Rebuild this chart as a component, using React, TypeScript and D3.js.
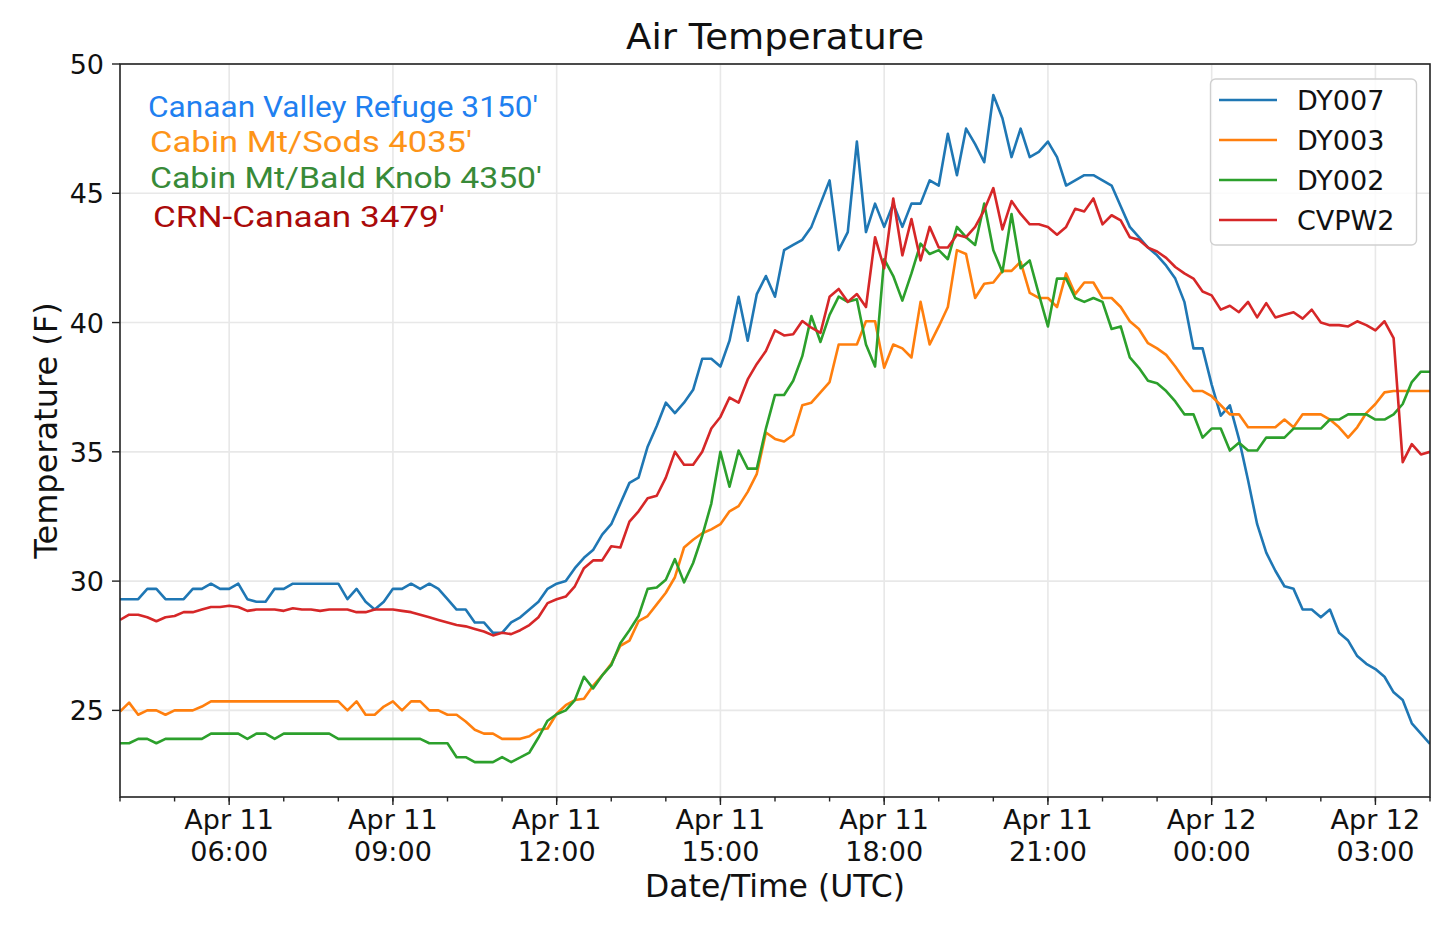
import * as d3 from "d3";

// 10-minute readings, Apr 11 04:00 UTC to Apr 12 04:00 UTC
const dy007 = [
  29.3, 29.3, 29.3, 29.7, 29.7, 29.3, 29.3, 29.3, 29.7, 29.7, 29.9, 29.7, 29.7, 29.9, 29.3, 29.2, 29.2, 29.7, 29.7, 29.9,
  29.9, 29.9, 29.9, 29.9, 29.9, 29.3, 29.7, 29.2, 28.9, 29.2, 29.7, 29.7, 29.9, 29.7, 29.9, 29.7, 29.3, 28.9, 28.9, 28.4,
  28.4, 28.0, 28.0, 28.4, 28.6, 28.9, 29.2, 29.7, 29.9, 30.0, 30.5, 30.9, 31.2, 31.8, 32.2, 33.0, 33.8, 34.0, 35.2, 36.0,
  36.9, 36.5, 36.9, 37.4, 38.6, 38.6, 38.3, 39.3, 41.0, 39.3, 41.1, 41.8, 41.0, 42.8, 43.0, 43.2, 43.7, 44.6, 45.5, 42.8,
  43.5, 47.0, 43.5, 44.6, 43.7, 44.6, 43.7, 44.6, 44.6, 45.5, 45.3, 47.3, 45.7, 47.5, 46.9, 46.2, 48.8, 47.9, 46.4, 47.5,
  46.4, 46.6, 47.0, 46.4, 45.3, 45.5, 45.7, 45.7, 45.5, 45.3, 44.5, 43.7, 43.3, 42.9, 42.6, 42.2, 41.7, 40.8, 39.0, 39.0,
  37.6, 36.4, 36.8, 35.5, 33.9, 32.2, 31.1, 30.4, 29.8, 29.7, 28.9, 28.9, 28.6, 28.9, 28.0, 27.7, 27.1, 26.8, 26.6, 26.3,
  25.7, 25.4, 24.5, 24.1, 23.7,
];

const dy003 = [
  24.95, 25.3, 24.83, 25.0, 25.0, 24.83, 25.0, 25.0, 25.0, 25.15, 25.35, 25.35, 25.35, 25.35, 25.35, 25.35, 25.35, 25.35, 25.35, 25.35,
  25.35, 25.35, 25.35, 25.35, 25.35, 25.0, 25.35, 24.83, 24.83, 25.15, 25.35, 25.0, 25.35, 25.35, 25.0, 25.0, 24.83, 24.83, 24.57, 24.25,
  24.1, 24.1, 23.9, 23.9, 23.9, 24.0, 24.25, 24.3, 24.87, 25.2, 25.4, 25.45, 25.95, 26.35, 26.8, 27.5, 27.7, 28.45, 28.65, 29.1,
  29.55, 30.15, 31.3, 31.6, 31.85, 32.0, 32.2, 32.7, 32.9, 33.45, 34.15, 35.75, 35.5, 35.4, 35.65, 36.8, 36.9, 37.3, 37.7, 39.15,
  39.15, 39.15, 40.05, 40.05, 38.25, 39.15, 39.0, 38.65, 40.8, 39.15, 39.85, 40.6, 42.8, 42.65, 40.95, 41.5, 41.55, 42.0, 42.0, 42.35,
  41.15, 40.95, 40.95, 40.6, 41.9, 41.1, 41.55, 41.55, 40.95, 40.95, 40.6, 40.05, 39.75, 39.2, 39.0, 38.75, 38.3, 37.8, 37.35, 37.35,
  37.15, 36.8, 36.45, 36.45, 35.95, 35.95, 35.95, 35.95, 36.25, 35.95, 36.45, 36.45, 36.45, 36.25, 35.95, 35.55, 35.95, 36.5, 36.85, 37.3,
  37.35, 37.35, 37.35, 37.35, 37.35,
];

const dy002 = [
  23.73, 23.73, 23.9, 23.9, 23.73, 23.9, 23.9, 23.9, 23.9, 23.9, 24.1, 24.1, 24.1, 24.1, 23.9, 24.1, 24.1, 23.9, 24.1, 24.1,
  24.1, 24.1, 24.1, 24.1, 23.9, 23.9, 23.9, 23.9, 23.9, 23.9, 23.9, 23.9, 23.9, 23.9, 23.73, 23.73, 23.73, 23.19, 23.19, 23.0,
  23.0, 23.0, 23.19, 23.0, 23.18, 23.37, 23.95, 24.6, 24.85, 25.0, 25.4, 26.3, 25.85, 26.35, 26.75, 27.6, 28.1, 28.65, 29.7, 29.75,
  30.05, 30.85, 29.95, 30.7, 31.75, 33.0, 35.0, 33.65, 35.05, 34.35, 34.35, 35.9, 37.2, 37.2, 37.75, 38.7, 40.25, 39.25, 40.3, 41.0,
  40.8, 40.9, 39.15, 38.3, 42.45, 41.8, 40.85, 41.9, 43.05, 42.65, 42.8, 42.45, 43.7, 43.3, 43.0, 44.6, 42.8, 41.95, 44.2, 42.1,
  42.4, 41.1, 39.85, 41.7, 41.7, 40.95, 40.8, 40.95, 40.8, 39.75, 39.85, 38.65, 38.25, 37.75, 37.65, 37.35, 36.95, 36.45, 36.45, 35.55,
  35.9, 35.9, 35.05, 35.35, 35.05, 35.05, 35.55, 35.55, 35.55, 35.9, 35.9, 35.9, 35.9, 36.25, 36.25, 36.45, 36.45, 36.45, 36.25, 36.25,
  36.45, 36.85, 37.7, 38.1, 38.1,
];

const cvpw2 = [
  28.5, 28.7, 28.7, 28.6, 28.45, 28.6, 28.65, 28.8, 28.8, 28.9, 29.0, 29.0, 29.05, 29.0, 28.85, 28.9, 28.9, 28.9, 28.85, 28.95,
  28.9, 28.9, 28.85, 28.9, 28.9, 28.9, 28.8, 28.8, 28.9, 28.9, 28.9, 28.85, 28.8, 28.7, 28.6, 28.5, 28.4, 28.3, 28.25, 28.15,
  28.05, 27.9, 28.0, 27.95, 28.1, 28.3, 28.6, 29.15, 29.3, 29.4, 29.8, 30.5, 30.8, 30.8, 31.35, 31.3, 32.3, 32.7, 33.2, 33.3,
  34.0, 35.0, 34.5, 34.5, 35.0, 35.9, 36.35, 37.1, 36.9, 37.8, 38.4, 38.9, 39.7, 39.5, 39.55, 40.06, 39.8, 39.6, 41.0, 41.3,
  40.8, 41.1, 40.6, 43.3, 42.1, 44.8, 42.6, 44.0, 42.4, 43.7, 42.9, 42.9, 43.4, 43.3, 43.7, 44.35, 45.2, 43.6, 44.7, 44.2,
  43.8, 43.8, 43.7, 43.4, 43.7, 44.4, 44.3, 44.8, 43.8, 44.15, 43.95, 43.3, 43.2, 42.9, 42.75, 42.5, 42.15, 41.9, 41.7, 41.2,
  41.05, 40.5, 40.65, 40.4, 40.8, 40.2, 40.75, 40.2, 40.3, 40.4, 40.15, 40.5, 40.0, 39.9, 39.9, 39.85, 40.05, 39.9, 39.7, 40.05,
  39.4, 34.6, 35.3, 34.9, 35.0,
];

const seriesNames = ["DY007", "DY003", "DY002", "CVPW2"];
const seriesColors = ["#1f77b4", "#ff7f0e", "#2ca02c", "#d62728"];

const stationLabels = [
  "Canaan Valley Refuge 3150'",
  "Cabin Mt/Sods 4035'",
  "Cabin Mt/Bald Knob 4350'",
  "CRN-Canaan 3479'",
];
const stationColors = ["#1f80f0", "#fd9418", "#388a38", "#aa0a0a"];

const startTime = new Date(Date.UTC(2019, 3, 11, 4, 0));
const endTime = new Date(Date.UTC(2019, 3, 12, 4, 0));
const times = d3.utcMinute.every(10)!.range(startTime, new Date(+endTime + 1));

const W = 1440;
const H = 929;
const margin = { top: 64, right: 10, bottom: 132, left: 120 };
const tickFont = "DejaVu Sans, Verdana, sans-serif";

// annotation placement (left x, baseline y, drawn width)
const labelX = [148, 150, 150, 153];
const labelY = [117, 152, 188, 227];
const labelW = [390, 322, 392, 292];

export default function App() {
  const x = d3
    .scaleUtc()
    .domain([startTime, endTime])
    .range([margin.left, W - margin.right]);
  const y = d3
    .scaleLinear()
    .domain([21.65, 50])
    .range([H - margin.bottom, margin.top]);

  const [x0, x1] = x.range();
  const [yb, yt] = y.range();

  const majorTicks = x.ticks(d3.utcHour.every(3)!);
  const minorTicks = x.ticks(d3.utcHour.every(1)!);
  const yTicks = y.ticks(6);
  const fmtDay = d3.utcFormat("%b %d");
  const fmtTime = d3.utcFormat("%H:%M");

  const line = d3
    .line<number>()
    .x((_, i) => x(times[i]))
    .y((d) => y(d));

  const allSeries = [dy007, dy003, dy002, cvpw2];

  return (
    <svg
      width={W}
      height={H}
      style={{ position: "absolute", left: 0, top: 0, background: "#fff" }}
    >
      <defs>
        <clipPath id="plot">
          <rect x={x0} y={yt} width={x1 - x0} height={yb - yt} />
        </clipPath>
      </defs>

      {/* grid */}
      <g stroke="#e8e8e8" strokeWidth={1.6}>
        {majorTicks.map((t) => (
          <line key={+t} x1={x(t)} x2={x(t)} y1={yt} y2={yb} />
        ))}
        {yTicks.map((v) => (
          <line key={v} x1={x0} x2={x1} y1={y(v)} y2={y(v)} />
        ))}
      </g>

      {/* series */}
      <g clipPath="url(#plot)" fill="none" strokeWidth={2.6} strokeLinejoin="round">
        {allSeries.map((s, i) => (
          <path key={seriesNames[i]} d={line(s) ?? ""} stroke={seriesColors[i]} />
        ))}
      </g>

      {/* frame */}
      <rect
        x={x0}
        y={yt}
        width={x1 - x0}
        height={yb - yt}
        fill="none"
        stroke="#222"
        strokeWidth={1.6}
      />

      {/* x axis */}
      <g stroke="#222" strokeWidth={1.4}>
        {minorTicks.map((t) => (
          <line key={+t} x1={x(t)} x2={x(t)} y1={yb} y2={yb + 4.5} />
        ))}
        {majorTicks.map((t) => (
          <line key={+t} x1={x(t)} x2={x(t)} y1={yb} y2={yb + 8} />
        ))}
      </g>
      <g fontFamily={tickFont} fontSize={27} fill="#111" textAnchor="middle">
        {majorTicks.map((t) => (
          <text key={+t} x={x(t)} y={yb + 32}>
            <tspan x={x(t)}>{fmtDay(t)}</tspan>
            <tspan x={x(t)} dy={32}>
              {fmtTime(t)}
            </tspan>
          </text>
        ))}
      </g>

      {/* y axis */}
      <g stroke="#222" strokeWidth={1.4}>
        {yTicks.map((v) => (
          <line key={v} x1={x0 - 8} x2={x0} y1={y(v)} y2={y(v)} />
        ))}
      </g>
      <g fontFamily={tickFont} fontSize={27} fill="#111" textAnchor="end">
        {yTicks.map((v) => (
          <text key={v} x={x0 - 16} y={y(v) + 10}>
            {v}
          </text>
        ))}
      </g>

      {/* titles */}
      <text
        x={(x0 + x1) / 2}
        y={49}
        textAnchor="middle"
        fontFamily={tickFont}
        fontSize={36}
        textLength={298}
        lengthAdjust="spacingAndGlyphs"
        fill="#111"
      >
        Air Temperature
      </text>
      <text
        x={(x0 + x1) / 2}
        y={897}
        textAnchor="middle"
        fontFamily={tickFont}
        fontSize={31.5}
        fill="#111"
      >
        Date/Time (UTC)
      </text>
      <text
        transform={`translate(57,${(yt + yb) / 2}) rotate(-90)`}
        textAnchor="middle"
        fontFamily={tickFont}
        fontSize={32}
        fill="#111"
      >
        Temperature (F)
      </text>

      {/* station annotations */}
      <g fontFamily="Roboto, sans-serif" fontSize={29}>
        {stationLabels.map((s, i) => (
          <text
            key={s}
            x={labelX[i]}
            y={labelY[i]}
            textLength={labelW[i]}
            lengthAdjust="spacingAndGlyphs"
            fill={stationColors[i]}
          >
            {s}
          </text>
        ))}
      </g>

      {/* legend */}
      <g>
        <rect
          x={1210.5}
          y={79}
          width={206}
          height={166}
          rx={5}
          fill="#fff"
          fillOpacity={0.8}
          stroke="#d0d0d0"
          strokeWidth={1.4}
        />
        {seriesNames.map((n, i) => {
          const ly = 100 + i * 40;
          return (
            <g key={n}>
              <line
                x1={1219}
                x2={1277}
                y1={ly}
                y2={ly}
                stroke={seriesColors[i]}
                strokeWidth={2.6}
              />
              <text
                x={1297}
                y={ly + 10}
                fontFamily={tickFont}
                fontSize={27}
                fill="#111"
              >
                {n}
              </text>
            </g>
          );
        })}
      </g>
    </svg>
  );
}
